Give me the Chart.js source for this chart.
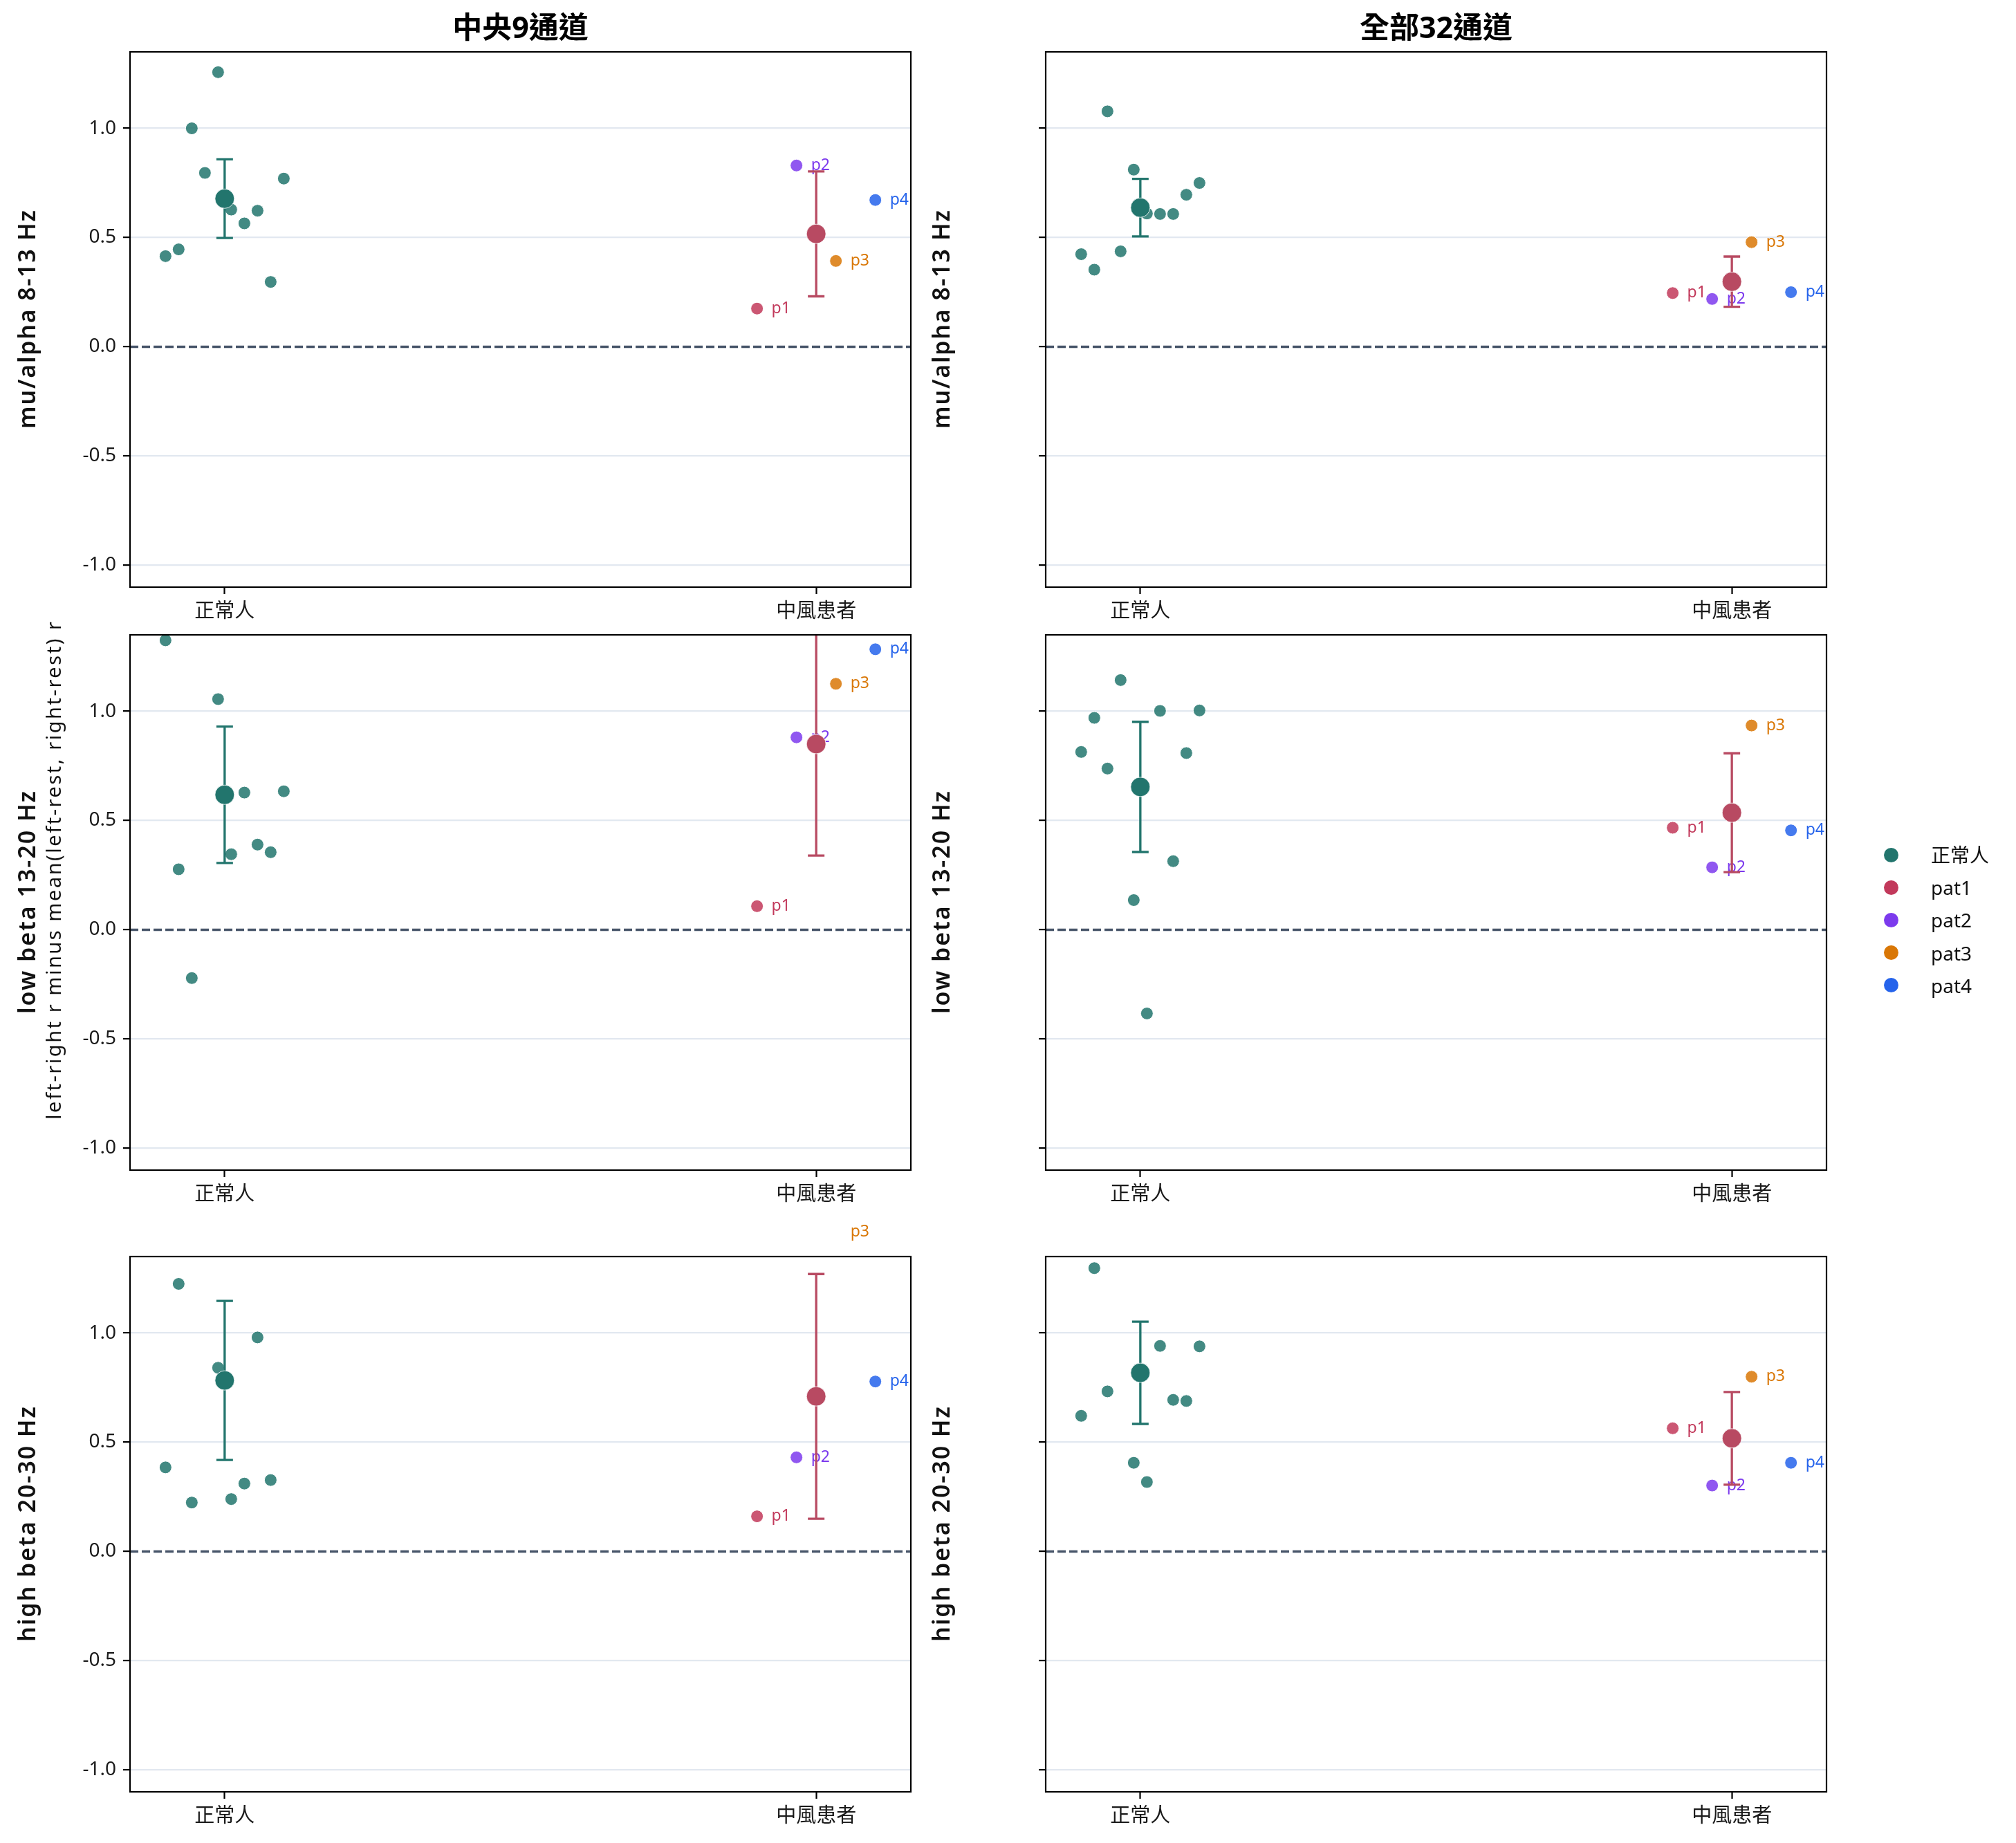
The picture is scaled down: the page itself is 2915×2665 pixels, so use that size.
<!DOCTYPE html>
<html>
<head>
<meta charset="utf-8">
<script src="https://cdn.jsdelivr.net/npm/chart.js@4.4.1/dist/chart.umd.min.js"></script>
<style>
  html, body { margin: 0; padding: 0; background: #ffffff; }
  #wrap { position: relative; width: 2915px; height: 2665px; overflow: hidden; background: #ffffff; }
  #wrap canvas { position: absolute; }
  .lg-dot { position: absolute; width: 21px; height: 21px; border-radius: 50%; }
  .lg-text { position: absolute; font-family: 'Noto Sans', 'Noto Sans CJK TC', sans-serif; font-size: 28px; color: #111; white-space: nowrap; line-height: 40px; }
</style>
</head>
<body>
<div id="wrap"></div>
<script>
// ---------------- data ----------------
const categories = ['正常人', '中風患者'];
const columnTitles = ['中央9通道', '全部32通道'];
const bandLabels = ['mu/alpha 8-13 Hz', 'low beta 13-20 Hz', 'high beta 20-30 Hz'];
const sideNote = 'left-right r minus mean(left-rest, right-rest) r';
const legendLabels = ['正常人', 'pat1', 'pat2', 'pat3', 'pat4'];
const patientTags = ['p1', 'p2', 'p3', 'p4'];
const yTickValues = [-1.0, -0.5, 0.0, 0.5, 1.0];

// individual healthy subjects (10), one array per panel
const normal_c9_mu  = [0.415, 0.446, 1.000, 0.796, 1.257, 0.628, 0.565, 0.623, 0.297, 0.770];
const normal_all_mu = [0.424, 0.353, 1.078, 0.437, 0.811, 0.610, 0.608, 0.608, 0.696, 0.750];
const normal_c9_lb  = [1.325, 0.277, -0.221, 1.400, 1.056, 0.346, 0.628, 0.390, 0.355, 0.634];
const normal_all_lb = [0.814, 0.970, 0.738, 1.143, 0.136, -0.383, 1.002, 0.314, 0.809, 1.004];
const normal_c9_hb  = [0.385, 1.225, 0.224, 1.920, 0.841, 0.240, 0.311, 0.980, 0.327, 1.390];
const normal_all_hb = [0.621, 1.297, 0.733, 1.550, 0.406, 0.318, 0.941, 0.694, 0.689, 0.939];

// stroke patients p1..p4, one array per panel
const patient_c9_mu  = [0.175, 0.830, 0.393, 0.672];
const patient_all_mu = [0.246, 0.219, 0.479, 0.250];
const patient_c9_lb  = [0.108, 0.881, 1.126, 1.284];
const patient_all_lb = [0.467, 0.286, 0.935, 0.455];
const patient_c9_hb  = [0.161, 0.431, 1.463, 0.778];
const patient_all_hb = [0.564, 0.302, 0.800, 0.406];

// group means and 95% CI half-widths, panel order: c9_mu, all_mu, c9_lb, all_lb, c9_hb, all_hb
const normalMean  = [0.678, 0.637, 0.618, 0.654, 0.783, 0.818];
const normalCI    = [0.180, 0.132, 0.312, 0.298, 0.364, 0.234];
const patientMean = [0.517, 0.298, 0.850, 0.536, 0.710, 0.518];
const patientCI   = [0.286, 0.115, 0.510, 0.272, 0.560, 0.212];

// ---------------- styling / layout ----------------
const FONT = "'Noto Sans', 'Noto Sans CJK TC', sans-serif";
const normalColor = '#22756d';
const normalPointColor = 'rgba(34,117,109,0.85)';
const patientMeanColor = '#b84a62';
const patientColors = ['#c2395b', '#7c3aed', '#d97706', '#2563eb'];
const patientPointColors = ['rgba(194,57,91,0.85)', 'rgba(124,58,237,0.85)', 'rgba(217,119,6,0.85)', 'rgba(37,99,235,0.85)'];
const X_LIMITS = [-0.16, 1.16];
const Y_LIMITS = [-1.1, 1.35];
const JITTER_SPAN = 0.1;
const jitter = (n) => Array.from({length: n}, (_, i) => -JITTER_SPAN + 2 * JITTER_SPAN * i / (n - 1));
const normalJitter = jitter(10);
const patientJitter = jitter(4);

const COLS = [
  {canvasLeft: 0,    plotLeft: 188,  plotRight: 1317, labelBase: 51,   showTicks: true},
  {canvasLeft: 1330, plotLeft: 1512, plotRight: 2641, labelBase: 1373, showTicks: false}
];
const ROWS = [
  {plotTop: 75,   pad: 75},
  {plotTop: 918,  pad: 75},
  {plotTop: 1817, pad: 100}
];
const PLOT_H = 774, XAXIS_H = 70, CANVAS_W = 1400;
const TITLE_Y = 43;
const SIDENOTE_X = 88, SIDENOTE_Y = 1259;
const BAND_LABEL_LEN = [316, 322, 340];
const SIDENOTE_LEN = 720;

const panels = [
  [normal_c9_mu, patient_c9_mu], [normal_all_mu, patient_all_mu],
  [normal_c9_lb, patient_c9_lb], [normal_all_lb, patient_all_lb],
  [normal_c9_hb, patient_c9_hb], [normal_all_hb, patient_all_hb]
];

// draw rotated text centred on (cx, cy) with a target run length
function rotatedText(ctx, text, cx, cy, font, targetLen) {
  ctx.save();
  ctx.translate(cx, cy);
  ctx.rotate(-Math.PI / 2);
  ctx.font = font;
  ctx.textBaseline = 'alphabetic';
  const hasLS = ('letterSpacing' in ctx);
  if (hasLS) ctx.letterSpacing = '0px';
  const w = ctx.measureText(text).width;
  if (targetLen && hasLS) {
    const sp = (targetLen - w) / Math.max(1, text.length - 1);
    ctx.letterSpacing = sp.toFixed(2) + 'px';
    ctx.textAlign = 'left';
    ctx.fillText(text, -targetLen / 2, 0);
  } else if (targetLen) {
    ctx.scale(targetLen / w, 1);
    ctx.textAlign = 'center';
    ctx.fillText(text, 0, 0);
  } else {
    ctx.textAlign = 'center';
    ctx.fillText(text, 0, 0);
  }
  ctx.restore();
}

const decoPlugin = {
  id: 'deco',
  beforeDatasetDraw(chart, args, opts) {
    const ds = chart.data.datasets[args.index];
    if (ds.role !== 'mean') return;
    const {ctx, chartArea: a, scales: {x, y}} = chart;
    const p = opts.panel;
    // patient tags
    ctx.save();
    ctx.font = `23px ${FONT}`;
    ctx.textAlign = 'left';
    ctx.textBaseline = 'middle';
    p.patients.forEach((v, i) => {
      const px = x.getPixelForValue(1 + patientJitter[i]);
      const py = y.getPixelForValue(v);
      ctx.fillStyle = patientColors[i];
      ctx.fillText(patientTags[i], px + 21, py);
    });
    ctx.restore();
    // error bars (95% CI)
    ctx.save();
    ctx.beginPath();
    ctx.rect(a.left, a.top, a.right - a.left, a.bottom - a.top);
    ctx.clip();
    [[0, p.nMean, p.nCI, normalColor], [1, p.pMean, p.pCI, patientMeanColor]].forEach(([cx, m, e, c]) => {
      const X = x.getPixelForValue(cx);
      const yHi = y.getPixelForValue(m + e), yLo = y.getPixelForValue(m - e);
      ctx.strokeStyle = c;
      ctx.lineWidth = 3.3;
      ctx.beginPath();
      ctx.moveTo(X, yLo); ctx.lineTo(X, yHi);
      ctx.moveTo(X - 12, yLo); ctx.lineTo(X + 12, yLo);
      ctx.moveTo(X - 12, yHi); ctx.lineTo(X + 12, yHi);
      ctx.stroke();
    });
    ctx.restore();
  },
  afterDraw(chart, args, opts) {
    const {ctx, chartArea: a} = chart;
    const p = opts.panel;
    ctx.save();
    ctx.strokeStyle = '#000';
    ctx.lineWidth = 2.2;
    ctx.strokeRect(a.left, a.top, a.right - a.left, a.bottom - a.top);
    ctx.fillStyle = '#111';
    rotatedText(ctx, bandLabels[p.row], p.labelBase, (a.top + a.bottom) / 2, `600 34px ${FONT}`, BAND_LABEL_LEN[p.row]);
    if (p.row === 1 && p.col === 0) {
      rotatedText(ctx, sideNote, SIDENOTE_X - p.canvasLeft, SIDENOTE_Y - p.canvasTop, `29px ${FONT}`, SIDENOTE_LEN);
    }
    if (p.row === 0) {
      ctx.font = `bold 43px ${FONT}`;
      ctx.textAlign = 'center';
      ctx.textBaseline = 'middle';
      ctx.fillStyle = '#000';
      ctx.fillText(columnTitles[p.col], (a.left + a.right) / 2, TITLE_Y - p.canvasTop);
    }
    ctx.restore();
  }
};

const wrap = document.getElementById('wrap');

panels.forEach(([normalVals, patientVals], idx) => {
  const row = Math.floor(idx / 2), col = idx % 2;
  const C = COLS[col], R = ROWS[row];
  const canvasTop = R.plotTop - R.pad;
  const H = R.pad + PLOT_H + XAXIS_H;
  const cv = document.createElement('canvas');
  cv.width = CANVAS_W; cv.height = H;
  cv.style.left = C.canvasLeft + 'px';
  cv.style.top = canvasTop + 'px';
  cv.style.width = CANVAS_W + 'px';
  cv.style.height = H + 'px';
  wrap.appendChild(cv);

  const panel = {
    row, col, canvasLeft: C.canvasLeft, canvasTop,
    labelBase: C.labelBase - C.canvasLeft,
    patients: patientVals,
    nMean: normalMean[idx], nCI: normalCI[idx],
    pMean: patientMean[idx], pCI: patientCI[idx]
  };

  new Chart(cv, {
    type: 'scatter',
    data: {
      datasets: [
        {
          role: 'zero', type: 'line',
          data: X_LIMITS.map(v => ({x: v, y: 0})),
          borderColor: '#475569', borderWidth: 3.3, borderDash: [12, 5],
          pointRadius: 0, fill: false, order: 4, clip: 0
        },
        {
          role: 'normal',
          data: normalVals.map((v, i) => ({x: 0 + normalJitter[i], y: v})),
          pointBackgroundColor: normalPointColor, pointBorderColor: '#ffffff',
          pointBorderWidth: 1, pointRadius: 9, order: 3, clip: 0
        },
        {
          role: 'patients',
          data: patientVals.map((v, i) => ({x: 1 + patientJitter[i], y: v})),
          pointBackgroundColor: patientPointColors, pointBorderColor: '#ffffff',
          pointBorderWidth: 1, pointRadius: 9, order: 2, clip: 0
        },
        {
          role: 'mean',
          data: [{x: 0, y: normalMean[idx]}, {x: 1, y: patientMean[idx]}],
          pointBackgroundColor: [normalColor, patientMeanColor], pointBorderColor: '#ffffff',
          pointBorderWidth: 0.8, pointRadius: 14, order: 1, clip: 0
        }
      ]
    },
    options: {
      responsive: false, animation: false, events: [], devicePixelRatio: 1,
      layout: {padding: {top: R.pad, right: CANVAS_W - (C.plotRight - C.canvasLeft), left: 0, bottom: 0}},
      plugins: {legend: {display: false}, tooltip: {enabled: false}, deco: {panel}},
      scales: {
        x: {
          type: 'linear', min: X_LIMITS[0], max: X_LIMITS[1],
          afterBuildTicks: s => { s.ticks = categories.map((c, i) => ({value: i})); },
          afterFit: s => { s.height = XAXIS_H; },
          ticks: {
            callback: v => categories[v] !== undefined ? categories[v] : '',
            font: {family: FONT, size: 29}, color: '#1a1a1a', padding: 8,
            maxRotation: 0, autoSkip: false
          },
          grid: {drawOnChartArea: false, drawTicks: true, tickLength: 10, tickWidth: 2.2, tickColor: '#000'},
          border: {display: false}
        },
        y: {
          type: 'linear', min: Y_LIMITS[0], max: Y_LIMITS[1],
          afterBuildTicks: s => { s.ticks = yTickValues.map(v => ({value: v})); },
          afterFit: s => { s.width = C.plotLeft - C.canvasLeft; },
          ticks: {
            callback: v => C.showTicks ? Number(v).toFixed(1) : '',
            font: {family: FONT, size: 28}, color: '#1a1a1a', padding: 10
          },
          grid: {
            color: ctx => (ctx.tick && ctx.tick.value === 0) ? 'rgba(0,0,0,0)' : '#e2e8f0',
            lineWidth: 2.2, drawTicks: true, tickLength: 10, tickWidth: 2.2, tickColor: '#000'
          },
          border: {display: false}
        }
      }
    },
    plugins: [decoPlugin]
  });
});

// legend
const legendColors = [normalColor].concat(patientColors);
const LEG_DOT_X = 2734, LEG_TEXT_X = 2792, LEG_Y0 = 1236, LEG_DY = 47.2;
legendLabels.forEach((lab, i) => {
  const cy = LEG_Y0 + LEG_DY * i;
  const dot = document.createElement('div');
  dot.className = 'lg-dot';
  dot.style.background = legendColors[i];
  dot.style.left = (LEG_DOT_X - 10.5) + 'px';
  dot.style.top = (cy - 10.5) + 'px';
  wrap.appendChild(dot);
  const t = document.createElement('div');
  t.className = 'lg-text';
  t.textContent = lab;
  t.style.left = LEG_TEXT_X + 'px';
  t.style.top = (cy - 20) + 'px';
  wrap.appendChild(t);
});
</script>
</body>
</html>
